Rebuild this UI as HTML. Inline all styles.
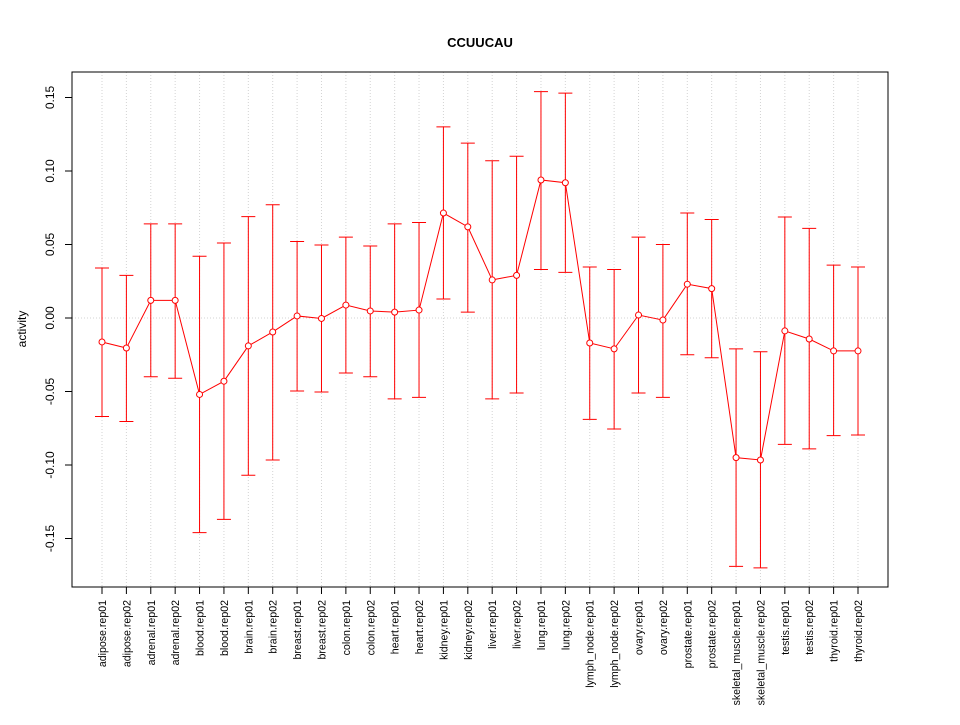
<!DOCTYPE html>
<html><head><meta charset="utf-8"><style>
body{margin:0;background:#fff;}
svg text{font-family:"Liberation Sans",sans-serif;}
</style></head><body>
<svg id="chart" width="960" height="720" xmlns="http://www.w3.org/2000/svg">
<rect width="960" height="720" fill="#fff"/>
<text x="480" y="47" text-anchor="middle" font-size="13" font-weight="bold">CCUUCAU</text>
<text transform="translate(26,329) rotate(-90)" text-anchor="middle" font-size="12">activity</text>
<g id="grid"></g><g id="axes"></g><g id="marks"></g>
<rect x="72" y="72" width="816" height="515" fill="none" stroke="#000" stroke-width="1"/>
</svg>
<script>
const categories=["adipose.rep01","adipose.rep02","adrenal.rep01","adrenal.rep02","blood.rep01","blood.rep02","brain.rep01","brain.rep02","breast.rep01","breast.rep02","colon.rep01","colon.rep02","heart.rep01","heart.rep02","kidney.rep01","kidney.rep02","liver.rep01","liver.rep02","lung.rep01","lung.rep02","lymph_node.rep01","lymph_node.rep02","ovary.rep01","ovary.rep02","prostate.rep01","prostate.rep02","skeletal_muscle.rep01","skeletal_muscle.rep02","testis.rep01","testis.rep02","thyroid.rep01","thyroid.rep02"];
const values=[-0.0163,-0.0204,0.012,0.012,-0.052,-0.043,-0.019,-0.0095,0.0014,-0.0003,0.0088,0.0048,0.004,0.0054,0.0714,0.062,0.0259,0.029,0.0939,0.092,-0.017,-0.021,0.002,-0.0014,0.023,0.020,-0.095,-0.0966,-0.0088,-0.0143,-0.0224,-0.0224];
const upper=[0.034,0.029,0.064,0.064,0.042,0.051,0.069,0.077,0.052,0.0497,0.055,0.049,0.064,0.065,0.130,0.119,0.107,0.110,0.154,0.153,0.0347,0.033,0.055,0.050,0.0714,0.067,-0.021,-0.023,0.0687,0.061,0.036,0.0347];
const lower=[-0.067,-0.0704,-0.040,-0.041,-0.146,-0.137,-0.107,-0.0966,-0.0497,-0.0503,-0.0374,-0.040,-0.055,-0.054,0.0129,0.004,-0.055,-0.051,0.033,0.031,-0.069,-0.0755,-0.051,-0.054,-0.025,-0.027,-0.169,-0.170,-0.086,-0.089,-0.080,-0.0796];
const yTicks=[-0.15,-0.10,-0.05,0.00,0.05,0.10,0.15];
const yTickLabels=["-0.15","-0.10","-0.05","0.00","0.05","0.10","0.15"];
const NS="http://www.w3.org/2000/svg";
const xs=i=>102+i*(858-102)/(categories.length-1);
const ys=v=>318-v*1470;
function mk(tag,attrs,parent){const e=document.createElementNS(NS,tag);for(const k in attrs)e.setAttribute(k,attrs[k]);parent.appendChild(e);return e;}
const grid=document.getElementById('grid'),axes=document.getElementById('axes'),marks=document.getElementById('marks');
categories.forEach((c,i)=>{
 const g=mk('line',{x1:xs(i),x2:xs(i),y1:72,y2:587,stroke:'#d3d3d3','stroke-dasharray':'1,2'},grid);
 
 
 const t=mk('line',{x1:xs(i),x2:xs(i),y1:587,y2:594,stroke:'#000'},axes);
 
 
 const l=mk('text',{transform:`translate(${xs(i)+4},${600}) rotate(-90)`,'text-anchor':'end','font-size':'10.6'},axes);
 l.textContent=c;
 
 
});
const zl=mk('line',{x1:72,x2:888,y1:ys(0),y2:ys(0),stroke:'#d3d3d3','stroke-dasharray':'1,2'},grid);


mk('line',{x1:72,x2:72,y1:ys(yTicks[0]),y2:ys(yTicks[yTicks.length-1]),stroke:'#000'},axes);
yTicks.forEach((v,i)=>{
 const t=mk('line',{x1:65,x2:72,y1:ys(v),y2:ys(v),stroke:'#000'},axes);
 
 
 const l=mk('text',{transform:`translate(54,${ys(v)}) rotate(-90)`,'text-anchor':'middle','font-size':'12'},axes);
 l.textContent=yTickLabels[i];
 
 
});
const red='#ff0000';
categories.forEach((c,i)=>{
 const x=xs(i);
 const eb=mk('path',{d:`M${x},${ys(upper[i])}V${ys(lower[i])}M${x-7},${ys(upper[i])}H${x+7}M${x-7},${ys(lower[i])}H${x+7}`,stroke:red,fill:'none','stroke-width':'1'},marks);
 
 
});
const pts=values.map((v,i)=>xs(i)+','+ys(v)).join(' ');
const ln=mk('polyline',{points:pts,fill:'none',stroke:red,'stroke-width':'1'},marks);


values.forEach((v,i)=>{
 const p=mk('circle',{cx:xs(i),cy:ys(v),r:3,fill:'#fff',stroke:red,'stroke-width':'1'},marks);
 
 
});
</script>
</body></html>
